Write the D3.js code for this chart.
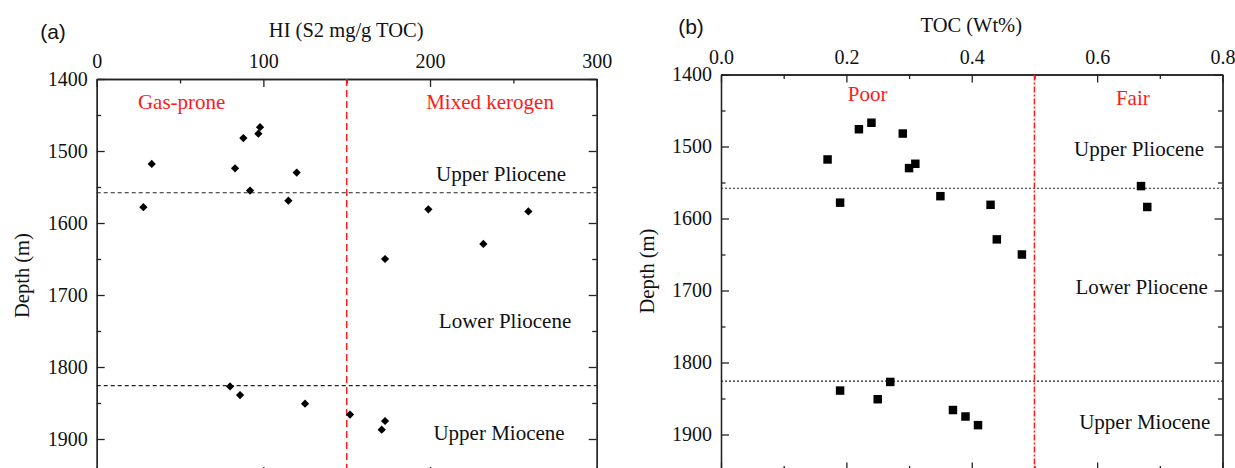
<!DOCTYPE html>
<html>
<head>
<meta charset="utf-8">
<script src="https://cdn.jsdelivr.net/npm/d3@7"></script>
<style>
  body { margin: 0; background: #fff; }
  svg { display: block; font-family: "Liberation Serif", "Times New Roman", serif; }
  .axis path, .axis line { stroke: #222; stroke-width: 1.3; }
  .axis text { font-family: "Liberation Serif", serif; font-size: 20px; fill: #111; }
</style>
</head>
<body>
<div id="chart"></div>
<script>
// sample depths shared by both panels (m)
const depths = [1467, 1476, 1482, 1518, 1524, 1530, 1555, 1569, 1578, 1581, 1584, 1629, 1650, 1827, 1839, 1851, 1866, 1875, 1887];
const hiValues = [98, 97, 88, 33, 83, 120, 92, 115, 28, 199, 259, 232, 173, 80, 86, 125, 152, 173, 171];
const tocValues = [0.24, 0.22, 0.29, 0.17, 0.31, 0.30, 0.67, 0.35, 0.19, 0.43, 0.68, 0.44, 0.48, 0.27, 0.19, 0.25, 0.37, 0.39, 0.41];

const depthTicks = [1400, 1500, 1600, 1700, 1800, 1900];
const depthMinor = [1450, 1550, 1650, 1750, 1850, 1950];
const hiTicks = [0, 100, 200, 300];
const hiMinor = [50, 150, 250];
const tocTicks = [0, 0.2, 0.4, 0.6, 0.8];
const tocMinor = [0.1, 0.3, 0.5, 0.7];

const formationBounds = [1558, 1826];
const formationNames = ['Upper Pliocene', 'Lower Pliocene', 'Upper Miocene'];

const svg = d3.select('#chart')
  .append('svg')
  .attr('width', 1235)
  .attr('height', 468);

function drawPanel(p) {
  const x = d3.scaleLinear().domain(p.xDomain).range([p.left, p.right]);
  const y = d3.scaleLinear().domain([1400, 1950]).range([p.top, p.top + 396]);
  const g = svg.append('g');

  // axes, ticks pointing inward
  g.append('g').attr('class', 'axis')
    .attr('transform', `translate(0, ${p.top})`)
    .call(d3.axisTop(x).tickValues(p.xTicks).tickFormat(p.xFormat).tickSizeInner(-8).tickSizeOuter(0).tickPadding(11));
  g.append('g').attr('class', 'axis')
    .attr('transform', `translate(0, ${p.top})`)
    .call(d3.axisTop(x).tickValues(p.xMinor).tickFormat('').tickSizeInner(-4.5).tickSizeOuter(0));
  g.append('g').attr('class', 'axis')
    .attr('transform', `translate(0, ${y(1950)})`)
    .call(d3.axisBottom(x).tickValues(p.xTicks).tickFormat('').tickSizeInner(-8).tickSizeOuter(0));
  g.append('g').attr('class', 'axis')
    .attr('transform', `translate(0, ${y(1950)})`)
    .call(d3.axisBottom(x).tickValues(p.xMinor).tickFormat('').tickSizeInner(-4.5).tickSizeOuter(0));

  g.append('g').attr('class', 'axis')
    .attr('transform', `translate(${p.left}, 0)`)
    .call(d3.axisLeft(y).tickValues(depthTicks).tickFormat(d3.format('d')).tickSizeInner(-8).tickSizeOuter(0).tickPadding(9));
  g.append('g').attr('class', 'axis')
    .attr('transform', `translate(${p.left}, 0)`)
    .call(d3.axisLeft(y).tickValues(depthMinor).tickFormat('').tickSizeInner(-4.5).tickSizeOuter(0));
  g.append('g').attr('class', 'axis')
    .attr('transform', `translate(${p.right}, 0)`)
    .call(d3.axisRight(y).tickValues(depthTicks).tickFormat('').tickSizeInner(-8).tickSizeOuter(0));
  g.append('g').attr('class', 'axis')
    .attr('transform', `translate(${p.right}, 0)`)
    .call(d3.axisRight(y).tickValues(depthMinor).tickFormat('').tickSizeInner(-4.5).tickSizeOuter(0));

  // formation boundaries
  g.selectAll('.bound')
    .data(formationBounds)
    .enter().append('line')
    .attr('x1', p.left).attr('x2', p.right)
    .attr('y1', d => y(d)).attr('y2', d => y(d))
    .attr('stroke', '#222')
    .attr('stroke-width', 1.2)
    .attr('stroke-dasharray', p.hDash);

  // red class cutoff
  g.append('line')
    .attr('x1', x(p.cutoff)).attr('x2', x(p.cutoff))
    .attr('y1', p.top).attr('y2', y(1950))
    .attr('stroke', '#ff1a1a')
    .attr('stroke-width', 1.5)
    .attr('stroke-dasharray', p.vDash);

  // points
  g.selectAll('.pt')
    .data(depths.map((d, i) => ({depth: d, v: p.values[i]})))
    .enter().append('path')
    .attr('d', d3.symbol().type(d3.symbolSquare).size(p.symSize))
    .attr('transform', d => `translate(${x(d.v)}, ${y(d.depth)}) rotate(${p.rotate})`)
    .attr('fill', '#000');

  // class labels (red)
  g.selectAll('.cls')
    .data(p.classes)
    .enter().append('text')
    .attr('x', d => x(d.x))
    .attr('y', d => y(d.depth))
    .attr('dy', '0.35em')
    .attr('text-anchor', 'middle')
    .attr('font-size', 21)
    .attr('fill', '#ff1a1a')
    .text(d => d.name);

  // formation names
  g.selectAll('.fm')
    .data(formationNames)
    .enter().append('text')
    .attr('x', (d, i) => x(p.fmX[i]))
    .attr('y', (d, i) => y(p.fmDepth[i]))
    .attr('dy', '0.35em')
    .attr('text-anchor', 'middle')
    .attr('font-size', 21)
    .attr('fill', '#111')
    .text(d => d);

  // titles
  g.append('text')
    .attr('x', (p.left + p.right) / 2 - 0.5)
    .attr('y', p.titleY)
    .attr('dy', '0.35em')
    .attr('text-anchor', 'middle')
    .attr('font-size', 20.5)
    .attr('fill', '#111')
    .text(p.title);

  g.append('text')
    .attr('transform', `translate(${p.yTitleX}, ${y(1673)}) rotate(-90)`)
    .attr('dy', '0.35em')
    .attr('text-anchor', 'middle')
    .attr('font-size', 20.5)
    .attr('fill', '#111')
    .text('Depth (m)');

  g.append('text')
    .attr('x', p.letterX)
    .attr('y', p.titleY + 2)
    .attr('dy', '0.35em')
    .attr('text-anchor', 'middle')
    .attr('font-family', '"Liberation Sans", Arial, sans-serif')
    .attr('font-size', 21)
    .attr('fill', '#111')
    .text(p.letter);
}

drawPanel({
  left: 96.7, right: 596.7, top: 79,
  xDomain: [0, 300], xTicks: hiTicks, xMinor: hiMinor, xFormat: d3.format('d'),
  values: hiValues, cutoff: 150,
  hDash: '4,3', vDash: '7,4',
  symSize: 34, rotate: 45,
  classes: [{name: 'Gas-prone', x: 51, depth: 1432}, {name: 'Mixed kerogen', x: 236, depth: 1432}],
  fmX: [242.6, 245, 241.4], fmDepth: [1531, 1735, 1891],
  title: 'HI (S2 mg/g TOC)', titleY: 30, yTitleX: 22,
  letter: '(a)', letterX: 53
});

drawPanel({
  left: 721, right: 1222.5, top: 74.5,
  xDomain: [0, 0.8], xTicks: tocTicks, xMinor: tocMinor, xFormat: d3.format('.1f'),
  values: tocValues, cutoff: 0.5,
  hDash: '2,2', vDash: '6,2,2,2',
  symSize: 72, rotate: 0,
  classes: [{name: 'Poor', x: 0.234, depth: 1427}, {name: 'Fair', x: 0.657, depth: 1432}],
  fmX: [0.667, 0.671, 0.676], fmDepth: [1503, 1695, 1882],
  title: 'TOC (Wt%)', titleY: 25, yTitleX: 647,
  letter: '(b)', letterX: 691
});
</script>
</body>
</html>
